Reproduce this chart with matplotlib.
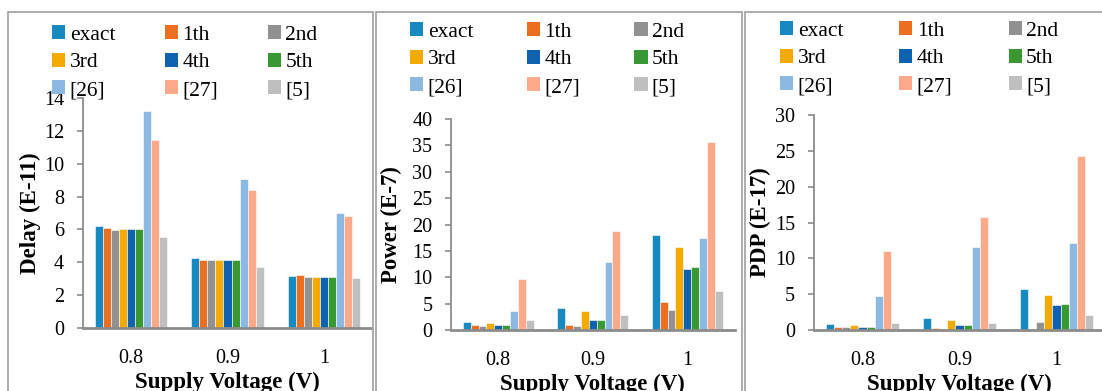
import matplotlib
matplotlib.use("Agg")
import matplotlib.pyplot as plt
from matplotlib.patches import Rectangle, Patch
import numpy as np

plt.rcParams['font.family'] = ['Liberation Serif', 'DejaVu Serif']

categories = ['0.8', '0.9', '1']
series = ['exact', '1th', '2nd', '3rd', '4th', '5th', '[26]', '[27]', '[5]']
colors = ['#1789C1', '#EC6E21', '#919191', '#F4AA00', '#0F62AF', '#389832',
          '#8BB9E1', '#FDA98A', '#BFBFBF']

delay = [
    [6.22, 4.24, 3.18],   # exact
    [6.08, 4.14, 3.22],   # 1th
    [5.98, 4.14, 3.10],   # 2nd
    [6.04, 4.16, 3.12],   # 3rd
    [6.02, 4.12, 3.10],   # 4th
    [6.02, 4.14, 3.10],   # 5th
    [13.18, 9.07, 7.00],  # [26]
    [11.46, 8.40, 6.80],  # [27]
    [5.56, 3.71, 3.02],   # [5]
]
power = [
    [1.52, 4.10, 18.07],
    [0.88, 0.88, 5.31],
    [0.70, 0.70, 3.79],
    [1.39, 3.54, 15.73],
    [0.88, 1.96, 11.63],
    [0.88, 1.96, 11.88],
    [3.60, 12.83, 17.38],
    [9.67, 18.83, 35.64],
    [1.96, 2.84, 7.33],
]
pdp = [
    [0.83, 1.67, 5.66],
    [0.46, 0.28, 0.00],
    [0.37, 0.19, 1.11],
    [0.74, 1.39, 4.82],
    [0.46, 0.70, 3.52],
    [0.46, 0.70, 3.62],
    [4.68, 11.54, 12.10],
    [10.99, 15.76, 24.25],
    [1.02, 0.97, 2.13],
]

W, H = 1102, 391
fig = plt.figure(figsize=(W / 100, H / 100), dpi=100)

def fx(px):
    return px / W

def fy(py):
    return 1 - py / H

# panel borders
border_col = '#A6A6A6'
for (x0, x1) in [(8, 373), (376, 742), (745, 1110)]:
    fig.patches.append(Rectangle((fx(x0), fy(400)), fx(x1) - fx(x0), fy(12) - fy(400),
                                 transform=fig.transFigure, fill=False,
                                 edgecolor=border_col, linewidth=1.3))

panels = [
    dict(data=delay, ylabel='Delay (E-11)', ylim=14, step=2,
         rect=(83, 372, 98, 328), leg=(52, 25), ylab_x=41, cs=2.3),
    dict(data=power, ylabel='Power (E-7)', ylim=40, step=5,
         rect=(451, 734.5, 119, 330), leg=(410, 22), ylab_x=402, cs=2.5),
    dict(data=pdp, ylabel='PDP (E-17)', ylim=30, step=5,
         rect=(814, 1105, 115, 330), leg=(780, 21), ylab_x=771, cs=2.6),
]

nser = len(series)
bw = 0.75 / nser
x = np.arange(len(categories))
spine_col = '#8C8C8C'

for p in panels:
    l, r, t, b = p['rect']
    ax = fig.add_axes([fx(l), fy(b), fx(r) - fx(l), fy(t) - fy(b)])
    for i, (name, col) in enumerate(zip(series, colors)):
        ax.bar(x - 0.375 + bw * (i + 0.5), p['data'][i], width=bw, color=col,
               edgecolor='white', linewidth=0.4, label=name)
    ax.set_xlim(-0.5, 2.5)
    ax.set_ylim(0, p['ylim'])
    ax.set_yticks(np.arange(0, p['ylim'] + 0.1, p['step']))
    ax.set_xticks(x)
    ax.set_xticklabels(categories)
    ax.tick_params(axis='x', length=0, pad=15, labelsize=14.5)
    ax.tick_params(axis='y', length=4.5, width=1.2, color=spine_col, pad=9, labelsize=14.5)
    for s in ['top', 'right']:
        ax.spines[s].set_visible(False)
    ax.spines['left'].set_color(spine_col)
    ax.spines['left'].set_linewidth(1.3)
    ax.spines['bottom'].set_color(spine_col)
    ax.spines['bottom'].set_linewidth(2.0)
    ax.set_ylabel(p['ylabel'], fontsize=16.5, fontweight='bold')
    ax.yaxis.set_label_coords((p['ylab_x'] - l) / (r - l), 0.5)
    ax.set_xlabel('Supply Voltage (V)', fontsize=16.5, fontweight='bold', labelpad=3)
    ax.patch.set_alpha(0)
    order = [0, 3, 6, 1, 4, 7, 2, 5, 8]
    proxies = [Patch(facecolor=colors[k], edgecolor='none') for k in order]
    lx, ly = p['leg']
    ax.legend(proxies, [series[k] for k in order], ncol=3,
              loc='upper left', bbox_to_anchor=(fx(lx), fy(ly)),
              bbox_transform=fig.transFigure, frameon=False,
              prop={'family': ['Liberation Serif'], 'size': 15.5},
              handlelength=0.62, handleheight=0.62, handletextpad=0.2,
              columnspacing=p['cs'], labelspacing=0.38, borderpad=0, borderaxespad=0)

fig.savefig('out.png', dpi=100)
